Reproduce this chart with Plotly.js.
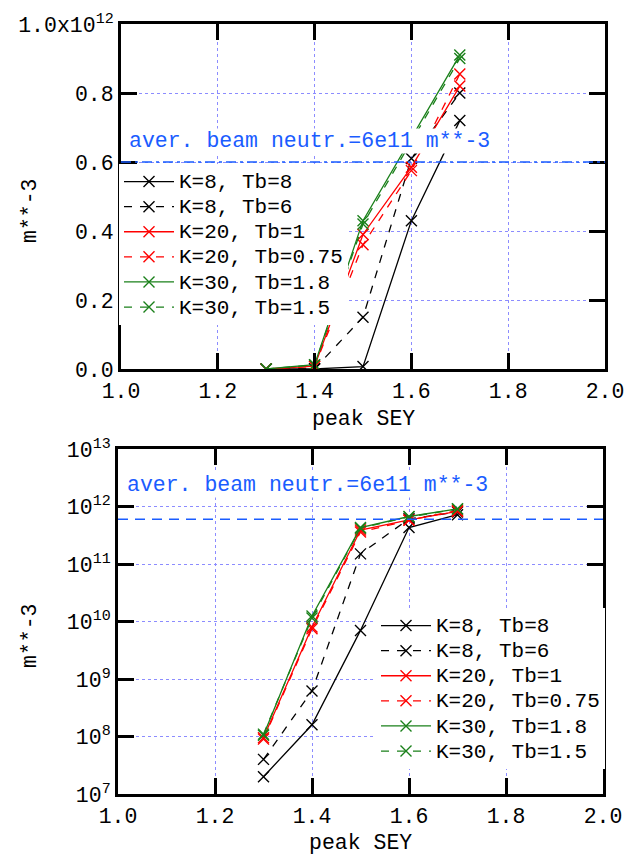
<!DOCTYPE html>
<html>
<head>
<meta charset="utf-8">
<script src="https://cdn.plot.ly/plotly-3.0.1.min.js"></script>
<style>html,body{margin:0;padding:0;background:#fff;}#chart{width:626px;height:859px;}</style>
</head>
<body>
<div id="chart"></div>
<script>
// ---- data ----
const sey = [1.3, 1.4, 1.5, 1.6, 1.7];
const k8_tb8    = [2.0e7, 1.6e8, 7.0e9, 4.3e11, 7.2e11];
const k8_tb6    = [4.0e7, 6.2e8, 1.5e11, 6.1e11, 8.0e11];
const k20_tb1   = [9.5e7, 8.0e9, 3.9e11, 5.85e11, 8.2e11];
const k20_tb075 = [9.0e7, 7.5e9, 3.6e11, 5.75e11, 8.55e11];
const k30_tb18  = [1.05e8, 1.25e10, 4.3e11, 6.7e11, 9.1e11];
const k30_tb15  = [1.1e8, 1.15e10, 4.2e11, 6.6e11, 9.0e11];
const seriesNames = ['K=8, Tb=8', 'K=8, Tb=6', 'K=20, Tb=1', 'K=20, Tb=0.75', 'K=30, Tb=1.8', 'K=30, Tb=1.5'];
const beamNeutr = 6e11;
const beamLabel = 'aver. beam neutr.=6e11 m**-3';
const xTickVals = [1.0, 1.2, 1.4, 1.6, 1.8, 2.0];
const xTickText = ['1.0', '1.2', '1.4', '1.6', '1.8', '2.0'];
const linTickVals = [0, 0.2e12, 0.4e12, 0.6e12, 0.8e12, 1.0e12];
const linTickText = ['0.0', '0.2', '0.4', '0.6', '0.8', '1.0x10<sup>12</sup>'];
const logTickVals = [1e7, 1e8, 1e9, 1e10, 1e11, 1e12, 1e13];
const logTickText = ['10<sup>7</sup>', '10<sup>8</sup>', '10<sup>9</sup>', '10<sup>10</sup>', '10<sup>11</sup>', '10<sup>12</sup>', '10<sup>13</sup>'];

// ---- styles ----
const W = 626, H = 859;
const FONT = 'Liberation Mono, DejaVu Sans Mono, monospace';
const FS = 21.5;
const BLUE = '#1a5cff';
const GRID = '#8c8cff';
const series = [k8_tb8, k8_tb6, k20_tb1, k20_tb075, k30_tb18, k30_tb15];
const colors = ['#000000', '#000000', '#ff0000', '#ff0000', '#1a801a', '#1a801a'];
const dashes = ['solid', '8px,8px', 'solid', '8px,8px', 'solid', '8px,8px'];

const traces = [];
['', '2'].forEach((s, k) => {
  series.forEach((vals, i) => {
    traces.push({
      x: sey, y: vals, type: 'scatter', mode: 'lines+markers',
      name: '<span style="font-size:21px">' + seriesNames[i] + '</span>',
      xaxis: 'x' + s, yaxis: 'y' + s,
      legend: k === 0 ? 'legend' : 'legend2',
      line: {color: colors[i], width: 1.3, dash: dashes[i]},
      marker: {symbol: 'x-thin', size: 11, line: {color: colors[i], width: 1.4}},
      cliponaxis: true
    });
  });
});

function axisBase() {
  return {
    showline: true, linecolor: 'black', linewidth: 3, mirror: 'ticks',
    ticks: 'inside', ticklen: 16, tickwidth: 3, tickcolor: 'black',
    showgrid: true, gridcolor: GRID, gridwidth: 1, griddash: 'dot',
    zeroline: false, tickfont: {family: FONT, size: FS, color: 'black'}
  };
}

function legendBase(x, y) {
  return {
    x: x / W, y: 1 - y / H, xanchor: 'left', yanchor: 'top',
    bgcolor: 'white', borderwidth: 0, font: {family: FONT, size: 17, color: 'black'},
    tracegroupgap: 0, itemwidth: 50
  };
}

const layout = {
  width: W, height: H,
  margin: {l: 0, r: 0, t: 0, b: 0},
  paper_bgcolor: 'white', plot_bgcolor: 'white',
  font: {family: FONT, size: FS, color: 'black'},
  showlegend: true,
  xaxis: Object.assign(axisBase(), {
    domain: [121 / W, 605 / W], anchor: 'y', range: [1, 2],
    tickmode: 'array', tickvals: xTickVals, ticktext: xTickText
  }),
  yaxis: Object.assign(axisBase(), {
    domain: [1 - 369 / H, 1 - 24 / H], anchor: 'x', range: [0, 1e12],
    tickmode: 'array', tickvals: linTickVals, ticktext: linTickText
  }),
  xaxis2: Object.assign(axisBase(), {
    domain: [118 / W, 603 / W], anchor: 'y2', range: [1, 2],
    tickmode: 'array', tickvals: xTickVals, ticktext: xTickText
  }),
  yaxis2: Object.assign(axisBase(), {
    domain: [1 - 794 / H, 1 - 449 / H], anchor: 'x2', type: 'log', range: [7, 13],
    tickmode: 'array', tickvals: logTickVals, ticktext: logTickText
  }),
  legend: legendBase(119, 164),
  legend2: legendBase(376, 608),
  shapes: [
    {type: 'line', xref: 'x domain', yref: 'y', x0: 0, x1: 1, y0: beamNeutr, y1: beamNeutr,
     line: {color: BLUE, width: 1.5, dash: '10px,4px,3px,4px'}, layer: 'above'},
    {type: 'line', xref: 'x2 domain', yref: 'y2', x0: 0, x1: 1, y0: beamNeutr, y1: beamNeutr,
     line: {color: BLUE, width: 1.5, dash: '10px,7px'}, layer: 'above'}
  ],
  annotations: [
    {text: beamLabel, xref: 'paper', yref: 'paper', x: 128 / W, y: 1 - 141 / H,
     xanchor: 'left', yanchor: 'middle', showarrow: false, bgcolor: 'white', borderpad: 0,
     font: {family: FONT, size: FS, color: BLUE}},
    {text: beamLabel, xref: 'paper', yref: 'paper', x: 126 / W, y: 1 - 485 / H,
     xanchor: 'left', yanchor: 'middle', showarrow: false, bgcolor: 'white', borderpad: 0,
     font: {family: FONT, size: FS, color: BLUE}},
    {text: 'peak SEY', xref: 'paper', yref: 'paper', x: 363 / W, y: 1 - 419 / H,
     xanchor: 'center', yanchor: 'middle', showarrow: false, font: {family: FONT, size: FS}},
    {text: 'peak SEY', xref: 'paper', yref: 'paper', x: 360 / W, y: 1 - 843 / H,
     xanchor: 'center', yanchor: 'middle', showarrow: false, font: {family: FONT, size: FS}},
    {text: 'm**-3', xref: 'paper', yref: 'paper', x: 30 / W, y: 1 - 211 / H, textangle: -90,
     xanchor: 'center', yanchor: 'middle', showarrow: false, font: {family: FONT, size: FS}},
    {text: 'm**-3', xref: 'paper', yref: 'paper', x: 30 / W, y: 1 - 636 / H, textangle: -90,
     xanchor: 'center', yanchor: 'middle', showarrow: false, font: {family: FONT, size: FS}}
  ]
};

Plotly.newPlot('chart', traces, layout, {displayModeBar: false, staticPlot: true});
</script>
</body>
</html>
